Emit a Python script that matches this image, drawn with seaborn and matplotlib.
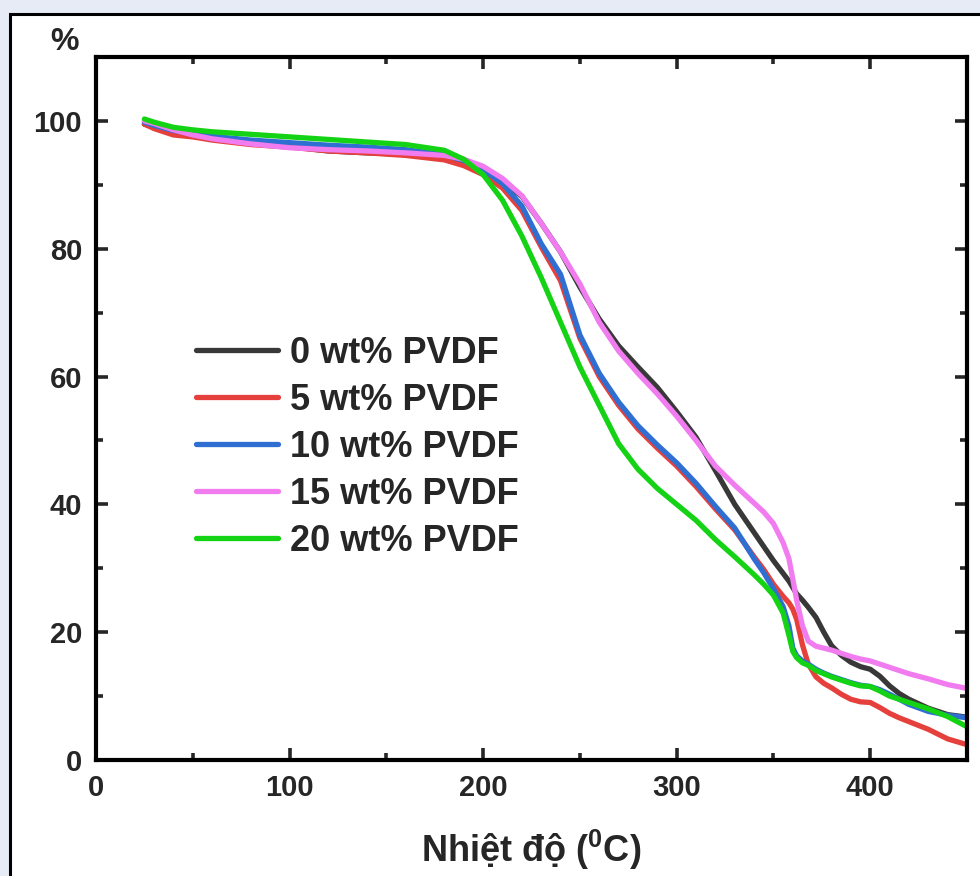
import numpy as np
import pandas as pd
import matplotlib
matplotlib.use("Agg")
import matplotlib.pyplot as plt
from matplotlib.patches import Rectangle
from matplotlib.ticker import MultipleLocator
import seaborn as sns

# ---------------- data ----------------
temperature = [25, 30, 40, 50, 60, 80, 100, 120, 140, 160, 180, 190, 200, 210,
               220, 230, 240, 250, 260, 270, 280, 290, 300, 310, 320, 330, 340,
               345, 350, 355, 358, 360, 362, 365, 368, 372, 376, 380, 385, 390,
               395, 400, 405, 410, 415, 420, 430, 440, 450]

pvdf_0 = [99.5, 99.0, 98.2, 97.6, 97.2, 96.6, 96.0, 95.3, 95.0, 94.8, 94.2, 93.4, 92.1, 90.5,
          88.2, 84.0, 79.5, 74.0, 69.0, 64.8, 61.5, 58.3, 54.5, 50.5, 45.3, 40.0, 35.6,
          33.4, 31.2, 29.2, 28.0, 27.0, 26.0, 25.0, 23.9, 22.3, 20.0, 17.9, 16.4, 15.3,
          14.6, 14.2, 13.1, 11.6, 10.4, 9.5, 8.1, 7.1, 6.7]

pvdf_5 = [99.5, 98.8, 97.8, 97.5, 97.0, 96.3, 95.9, 95.3, 95.0, 94.6, 93.9, 93.0, 91.6, 89.5,
          86.0, 80.3, 75.0, 66.0, 60.0, 55.5, 51.8, 48.8, 46.0, 42.8, 39.3, 36.0, 31.8,
          29.8, 27.5, 25.6, 24.6, 23.6, 22.0, 18.0, 15.0, 13.0, 12.0, 11.3, 10.3, 9.5,
          9.1, 9.0, 8.2, 7.3, 6.6, 6.0, 4.8, 3.3, 2.4]

pvdf_10 = [99.8, 99.3, 98.5, 98.0, 97.6, 97.0, 96.6, 96.2, 95.9, 95.5, 94.7, 93.8, 92.4, 90.2,
           86.7, 80.8, 76.0, 66.5, 60.5, 56.0, 52.3, 49.3, 46.5, 43.3, 39.7, 36.3, 31.5,
           29.3, 26.8, 24.0, 21.0, 17.5, 16.3, 15.5, 15.0, 14.2, 13.6, 13.1, 12.6, 12.1,
           11.7, 11.5, 11.0, 10.3, 9.5, 8.7, 7.6, 7.0, 6.6]

pvdf_15 = [100.0, 99.6, 98.6, 97.8, 97.2, 96.4, 95.8, 95.5, 95.3, 95.0, 94.6, 94.0, 92.9, 91.0,
           88.3, 84.0, 79.5, 74.5, 68.5, 64.0, 60.5, 57.3, 53.8, 50.0, 46.0, 43.0, 40.2,
           38.8, 37.0, 34.0, 31.5, 28.3, 25.0, 21.0, 18.6, 17.8, 17.5, 17.2, 16.7, 16.2,
           15.8, 15.5, 15.0, 14.5, 14.0, 13.5, 12.7, 11.8, 11.2]

pvdf_20 = [100.3, 99.8, 99.0, 98.6, 98.3, 97.9, 97.5, 97.1, 96.7, 96.3, 95.4, 94.0, 91.6, 87.6,
           82.0, 75.5, 68.5, 61.5, 55.5, 49.5, 45.5, 42.5, 40.0, 37.5, 34.5, 31.8, 29.0,
           27.5, 25.8, 23.0, 19.5, 17.0, 16.0, 15.2, 14.8, 14.0, 13.5, 13.0, 12.5, 12.0,
           11.6, 11.5, 10.8, 10.0, 9.5, 9.0, 8.0, 6.8, 5.2]

series_labels = ["0 wt% PVDF", "5 wt% PVDF", "10 wt% PVDF", "15 wt% PVDF", "20 wt% PVDF"]
series_colors = ["#383838", "#E5403C", "#2F6FD2", "#F07CF0", "#14D214"]

x_ticks = [0, 100, 200, 300, 400]
y_ticks = [0, 20, 40, 60, 80, 100]

# ---------------- build long table ----------------
frames = []
for lab, vals in zip(series_labels, [pvdf_0, pvdf_5, pvdf_10, pvdf_15, pvdf_20]):
    frames.append(pd.DataFrame({"T": temperature, "W": vals, "Mẫu": lab}))
df = pd.concat(frames, ignore_index=True)

# ---------------- style ----------------
sns.set_style("ticks")
plt.rcParams["font.family"] = ["Liberation Sans", "DejaVu Sans"]
plt.rcParams["font.weight"] = "bold"
plt.rcParams["mathtext.fontset"] = "custom"
plt.rcParams["mathtext.rm"] = "Liberation Sans:bold"
plt.rcParams["mathtext.it"] = "Liberation Sans:bold"
plt.rcParams["mathtext.bf"] = "Liberation Sans:bold"
plt.rcParams["mathtext.default"] = "rm"

W, H = 980, 876
fig = plt.figure(figsize=(W / 100, H / 100), dpi=100)
fig.patch.set_facecolor("#E7EBF6")

# white panel with black frame (as in the screenshot)
frame = Rectangle((10 / W, -0.1), 1.2, 1 - 14 / H + 0.1, transform=fig.transFigure,
                  facecolor="white", edgecolor="black", linewidth=2.2, zorder=-10,
                  clip_on=False)
fig.patches.append(frame)

ax = fig.add_axes([96 / W, 1 - 760 / H, (967 - 96) / W, (760 - 57) / H])
ax.set_facecolor("white")

sns.lineplot(data=df, x="T", y="W", hue="Mẫu", hue_order=series_labels,
             palette=series_colors, sort=False, estimator=None, linewidth=3.8,
             ax=ax)

ax.set_xlim(0, 450)
ax.set_ylim(0, 110)
ax.set_xticks(x_ticks)
ax.set_yticks(y_ticks)
ax.xaxis.set_minor_locator(MultipleLocator(50))
ax.yaxis.set_minor_locator(MultipleLocator(10))
ax.tick_params(which="both", direction="in", top=True, right=True,
               width=2.6, labelsize=21, pad=10)
ax.tick_params(which="major", length=8.5)
ax.tick_params(which="minor", length=5)
for lbl in ax.get_xticklabels() + ax.get_yticklabels():
    lbl.set_fontweight("bold")
for sp in ax.spines.values():
    sp.set_linewidth(3)
    sp.set_color("black")

ax.set_ylabel("")
ax.set_xlabel("Nhiệt độ ($^{0}$C)", fontsize=26, fontweight="bold", labelpad=19)
ax.text(-0.036, 1.022, "%", transform=ax.transAxes, ha="center", va="center",
        fontsize=23, fontweight="bold")

leg = ax.legend(loc="upper left", bbox_to_anchor=((196 - 96) / 871, (760 - 336) / 703),
                frameon=False, handlelength=2.28, handletextpad=0.33,
                labelspacing=0.33, borderpad=0, borderaxespad=0,
                prop={"weight": "bold", "size": 26})
for line in leg.get_lines():
    line.set_linewidth(3.8)

fig.savefig("out.png", dpi=100, facecolor=fig.get_facecolor())
